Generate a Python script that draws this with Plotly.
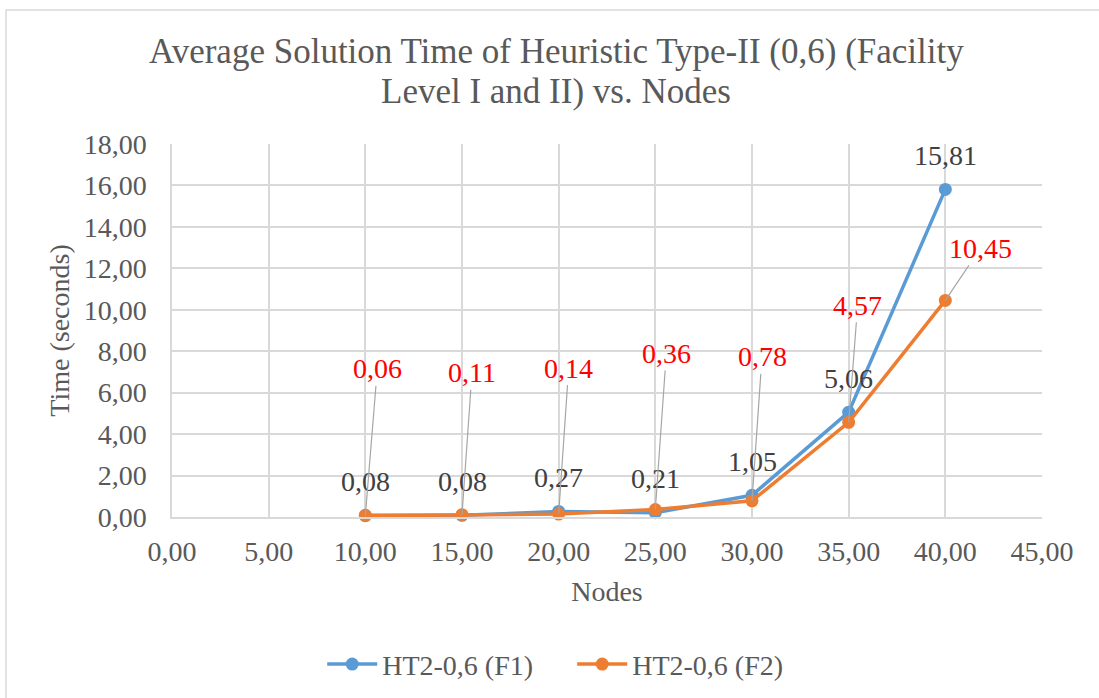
import plotly.graph_objects as go

nodes = [10, 15, 20, 25, 30, 35, 40]
f1_times = [0.08, 0.08, 0.27, 0.21, 1.05, 5.06, 15.81]
f2_times = [0.06, 0.11, 0.14, 0.36, 0.78, 4.57, 10.45]
series_names = ["HT2-0,6 (F1)", "HT2-0,6 (F2)"]
title_lines = ["Average Solution Time of Heuristic Type-II (0,6) (Facility",
               "Level I and II) vs. Nodes"]

# pixel offsets of the red callout labels (style)
f2_label_dx = [12, 10, 10, 11, 10, 9, 35]
f2_label_dy = [-147, -142, -146, -156, -144, -117, -52]

FONT = "Liberation Serif, Times New Roman, DejaVu Serif, serif"
BLUE = "#5B9BD5"
ORANGE = "#ED7D31"
GRID = "#D9D9D9"
TXT = "#595959"

def fmt(v):
    return f"{v:.2f}".replace(".", ",")

fig = go.Figure()
fig.add_trace(go.Scatter(x=nodes, y=f1_times, name=series_names[0], mode="lines+markers",
                         line=dict(color=BLUE, width=3.5), marker=dict(color=BLUE, size=13),
                         cliponaxis=False))
fig.add_trace(go.Scatter(x=nodes, y=f2_times, name=series_names[1], mode="lines+markers",
                         line=dict(color=ORANGE, width=3.5), marker=dict(color=ORANGE, size=13),
                         cliponaxis=False))

annotations = []
for x, v in zip(nodes, f1_times):
    annotations.append(dict(x=x, y=v, text=fmt(v), showarrow=False, yshift=34,
                            font=dict(family=FONT, size=28, color="#404040")))
for x, v, dx, dy in zip(nodes, f2_times, f2_label_dx, f2_label_dy):
    annotations.append(dict(x=x, y=v, text=fmt(v), showarrow=True, ax=dx, ay=dy,
                            arrowhead=0, arrowwidth=1.2, arrowcolor="#A6A6A6", standoff=0,
                            startstandoff=0,
                            font=dict(family=FONT, size=28, color="#FF0000")))
# chart title (two lines, tighter line spacing than plotly's default)
for line, ypos in zip(title_lines, [1.249, 1.142]):
    annotations.append(dict(xref="paper", yref="paper", x=(556 - 172) / 870, y=ypos,
                            xanchor="center", yanchor="middle", showarrow=False, text=line,
                            font=dict(family=FONT, size=35, color=TXT)))

fig.update_layout(
    width=1099, height=698,
    margin=dict(l=172, r=57, t=144, b=181, autoexpand=False),
    paper_bgcolor="white", plot_bgcolor="white",
    separators=",.",
    font=dict(family=FONT, size=28, color=TXT),
    xaxis=dict(range=[0, 45], dtick=5, tick0=0, tickformat=".2f", showgrid=True,
               gridcolor=GRID, gridwidth=1.5, showline=True, linecolor=GRID, linewidth=1.5,
               zeroline=False, ticks="", ticklabelstandoff=9, automargin=False,
               tickfont=dict(family=FONT, size=28, color=TXT),
               title=dict(text="Nodes", standoff=15, font=dict(family=FONT, size=28, color=TXT))),
    yaxis=dict(range=[0, 18], dtick=2, tick0=0, tickformat=".2f", showgrid=True,
               gridcolor=GRID, gridwidth=1.5, showline=True, linecolor=GRID, linewidth=1.5,
               zeroline=False, ticks="", ticklabelstandoff=18, automargin=False,
               tickfont=dict(family=FONT, size=28, color=TXT),
               title=dict(text="Time (seconds)", standoff=6, font=dict(family=FONT, size=28, color=TXT))),
    legend=dict(orientation="h", x=0.46, xanchor="center", yref="container", y=0.084, yanchor="top",
                font=dict(family=FONT, size=28, color=TXT), itemwidth=50,
                entrywidth=185, entrywidthmode="pixels"),
    annotations=annotations,
    shapes=[dict(type="rect", xref="paper", yref="paper",
                 x0=-0.1908, x1=1.2, y0=-0.6, y1=1.359,
                 line=dict(color=GRID, width=1.5), fillcolor="rgba(0,0,0,0)", layer="below")],
)

fig.write_html("out.html")
